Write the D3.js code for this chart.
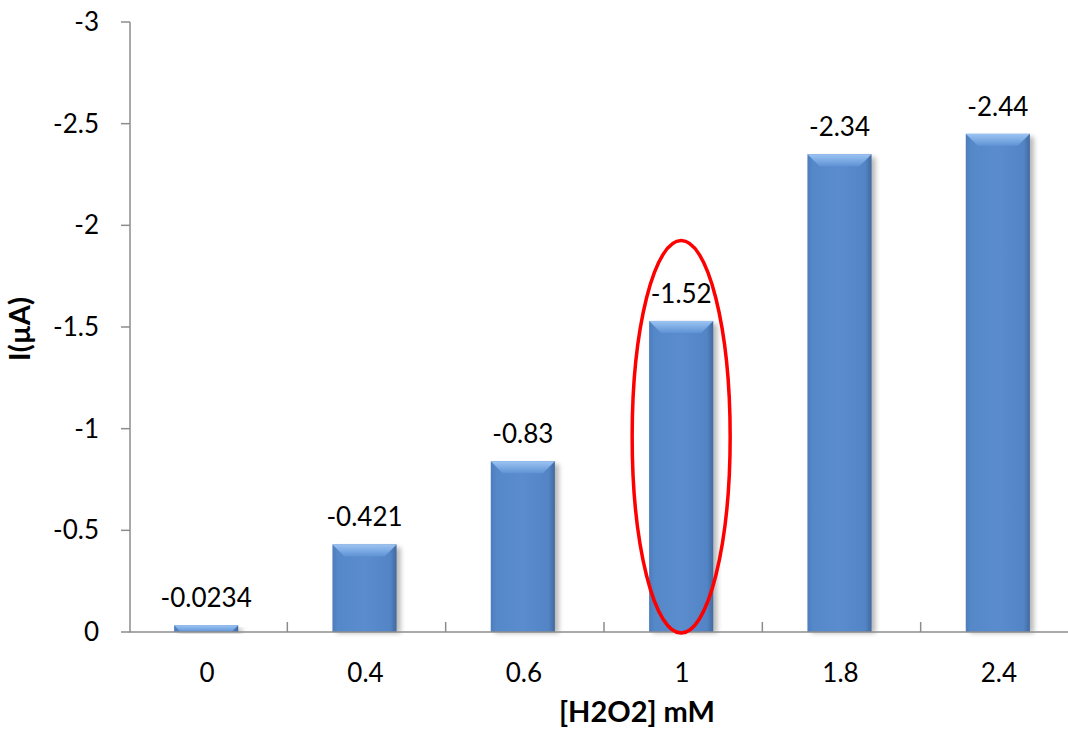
<!DOCTYPE html>
<html><head><meta charset="utf-8">
<script src="https://cdn.jsdelivr.net/npm/d3@7"></script>
<style>body{margin:0;background:#fff;}svg{display:block;font-family:Lato,"Open Sans",sans-serif;}</style>
</head><body>
<svg id="c" width="1068" height="729"></svg>
<script>
const categories = ["0","0.4","0.6","1","1.8","2.4"];
const values = [-0.0234,-0.421,-0.83,-1.52,-2.34,-2.44];
const labels = ["-0.0234","-0.421","-0.83","-1.52","-2.34","-2.44"];
const yTicks = [0,-0.5,-1,-1.5,-2,-2.5,-3];
const highlighted = "1";

(function(){
const svg = d3.select("#c");
const pLeft = 129, pRight = 1079, pTop = 22, pBottom = 632;
const x = d3.scaleBand().domain(categories).range([pLeft,pRight]).paddingInner(0).paddingOuter(0);
const y = d3.scaleLinear().domain([0,-3]).range([pBottom,pTop]);
const barW = x.bandwidth()*0.405;
const fs = 26;

const defs = svg.append("defs");
const g1 = defs.append("linearGradient").attr("id","body").attr("x1",0).attr("x2",1).attr("y1",0).attr("y2",0);
[[0,"#4c7cbb"],[0.08,"#5588c9"],[0.5,"#5a8cce"],[0.9,"#5385c6"],[1,"#41699f"]].forEach(s=>g1.append("stop").attr("offset",s[0]).attr("stop-color",s[1]));
const g2 = defs.append("linearGradient").attr("id","topb").attr("x1",0).attr("x2",0).attr("y1",0).attr("y2",1);
[[0,"#9cc4f3"],[1,"#5f93d4"]].forEach(s=>g2.append("stop").attr("offset",s[0]).attr("stop-color",s[1]));
const f = defs.append("filter").attr("id","sh").attr("x","-20%").attr("y","-20%").attr("width","140%").attr("height","140%");
f.append("feGaussianBlur").attr("stdDeviation",2.5);

// axes
svg.append("line").attr("x1",pLeft+1).attr("x2",pLeft+1).attr("y1",pTop).attr("y2",pBottom).attr("stroke","#8c8c8c").attr("stroke-width",1.5);
svg.selectAll(".yt").data(yTicks).enter().append("line")
  .attr("x1",pLeft-8).attr("x2",pLeft+1).attr("y1",d=>y(d)).attr("y2",d=>y(d)).attr("stroke","#8c8c8c").attr("stroke-width",1.5);
svg.selectAll(".yl").data(yTicks).enter().append("text")
  .attr("x",pLeft-30).attr("y",d=>y(d)).attr("dy","0.35em").attr("text-anchor","end")
  .attr("font-size",fs).attr("fill","#000").text(d=>d===0?"0":String(d));

// bars
const bars = svg.selectAll(".bar").data(categories).enter().append("g");
bars.append("rect").attr("x",d=>x(d)+x.bandwidth()/2-barW/2+2).attr("y",(d,i)=>y(values[i])+1)
  .attr("width",barW).attr("height",(d,i)=>Math.max(0,pBottom-y(values[i])))
  .attr("fill","#000").attr("opacity",0.28).attr("filter","url(#sh)");
bars.append("rect").attr("x",d=>x(d)+x.bandwidth()/2-barW/2-2).attr("y",(d,i)=>y(values[i])-2)
  .attr("width",barW).attr("height",(d,i)=>pBottom-y(values[i])+2).attr("fill","url(#body)");
bars.append("path").attr("d",(d,i)=>{
  const x0 = x(d)+x.bandwidth()/2-barW/2-2, x1 = x0+barW, yt = y(values[i])-2;
  const h = Math.min(12, pBottom-yt);
  return `M${x0},${yt}L${x1},${yt}L${x1-h},${yt+h}L${x0+h},${yt+h}Z`;
}).attr("fill","url(#topb)");
svg.append("line").attr("x1",pLeft).attr("x2",pRight).attr("y1",pBottom).attr("y2",pBottom).attr("stroke","#8c8c8c").attr("stroke-width",1.5);
svg.selectAll(".xt").data(categories.slice(1)).enter().append("line")
  .attr("x1",d=>x(d)).attr("x2",d=>x(d)).attr("y1",pBottom-10).attr("y2",pBottom).attr("stroke","#8c8c8c").attr("stroke-width",1.5);
svg.selectAll(".xl").data(categories).enter().append("text")
  .attr("x",d=>x(d)+x.bandwidth()/2-1).attr("y",682).attr("text-anchor","middle").attr("font-size",fs).text(d=>d);

// value labels
svg.selectAll(".vl").data(categories).enter().append("text")
  .attr("x",d=>x(d)+x.bandwidth()/2-2).attr("y",(d,i)=>y(values[i])-20).attr("text-anchor","middle")
  .attr("font-size",fs).text((d,i)=>labels[i]);

// titles
svg.append("text").attr("x",637).attr("y",722).attr("text-anchor","middle").attr("font-size",29).attr("font-weight","bold").text("[H2O2] mM");
svg.append("text").attr("transform","translate(30,329) rotate(-90)").attr("text-anchor","middle").attr("font-size",29).attr("font-weight","bold").text("I(µA)");

// highlight ellipse
svg.append("ellipse").attr("cx",x(highlighted)+x.bandwidth()/2-2).attr("cy",(y(0)+y(-1.93))/2+1)
  .attr("rx",49).attr("ry",(y(0)-y(-1.93))/2).attr("fill","none").attr("stroke","#ff0000").attr("stroke-width",3.5);
})();
</script>
</body></html>
